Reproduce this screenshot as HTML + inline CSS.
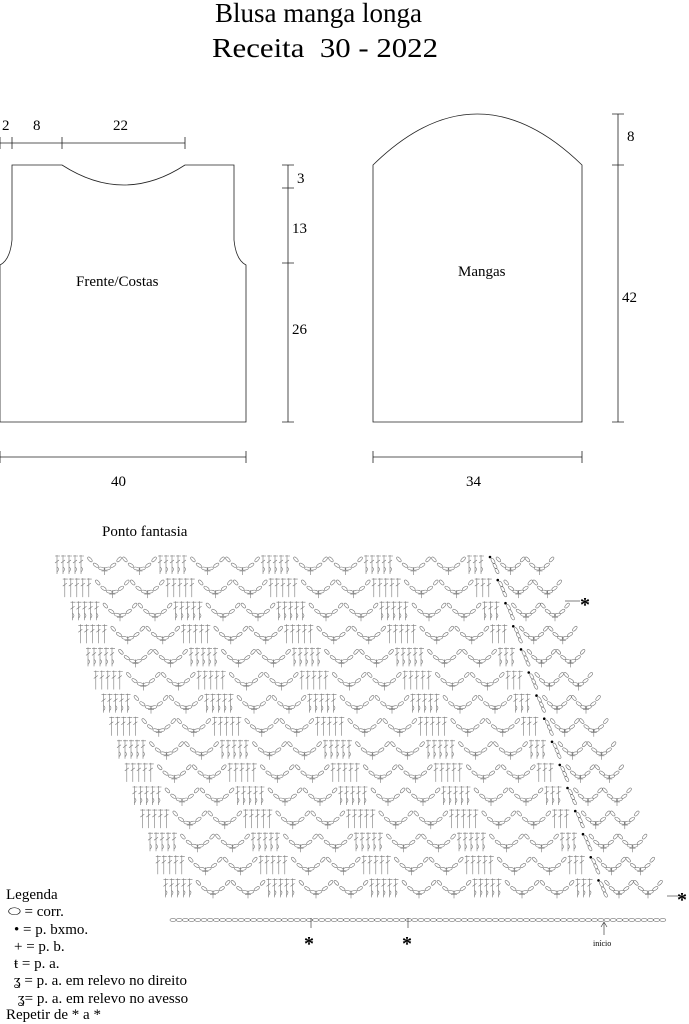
<!DOCTYPE html>
<html><head><meta charset="utf-8"><style>
body{margin:0;background:#fff;width:689px;height:1024px;overflow:hidden;font-family:"Liberation Serif",serif;}
svg{position:absolute;left:0;top:0}
</style></head><body>
<svg id="s" width="689" height="1024" viewBox="0 0 689 1024" font-family="Liberation Serif, serif">
<text x="215" y="22" font-size="27" textLength="207" lengthAdjust="spacingAndGlyphs">Blusa manga longa</text>
<text x="212" y="57" font-size="27" textLength="226" lengthAdjust="spacingAndGlyphs" style="white-space:pre">Receita  30 - 2022</text>
<g stroke="#222" stroke-width="0.8" fill="none">
<path d="M12 165 L62 165 Q124 205 185 165 L234 165 L234 240 Q236 260 246 265 L246 422 L0 422 L0 265 Q10 260 12 240 Z"/>
<path d="M0 143 H185 M0 137 V149 M12 137 V149 M62 137 V149 M185 137 V149"/>
<path d="M288 165 V422 M282 165 H294 M282 188 H294 M282 263 H294 M282 422 H294"/>
<path d="M0 457 H246 M0 451 V463 M246 451 V463"/>
<path d="M373 165 Q477 63 582 165 L582 422 L373 422 Z"/>
<path d="M618 114 V422 M612 114 H624 M612 165 H624 M612 422 H624"/>
<path d="M373 457 H582 M373 451 V463 M582 451 V463"/>
</g>
<g font-size="15">
<text x="2" y="130">2</text><text x="33" y="130">8</text><text x="113" y="130">22</text>
<text x="297" y="183">3</text><text x="292" y="233">13</text><text x="292" y="334">26</text>
<text x="76" y="286">Frente/Costas</text><text x="458" y="276">Mangas</text>
<text x="627" y="141">8</text><text x="622" y="302">42</text>
<text x="111" y="486">40</text><text x="466" y="486">34</text>
<text x="102" y="536">Ponto fantasia</text>
</g>
<g id="chart" stroke="#777" stroke-width="0.6" fill="none"></g>
<g font-size="15">
<text x="6" y="899">Legenda</text>
<text x="8" y="916">⬭ = corr.</text>
<text x="14" y="934">• = p. bxmo.</text>
<text x="14" y="951">+ = p. b.</text>
<text x="14" y="968">ŧ = p. a.</text>
<text x="14" y="985">ʓ = p. a. em relevo no direito</text>
<text x="18" y="1003">ʓ= p. a. em relevo no avesso</text>
<text x="6" y="1019">Repetir de * a *</text>
</g>
<g font-size="20" font-weight="bold">
<text x="580" y="611">*</text><text x="677" y="906">*</text>
<text x="304" y="950">*</text><text x="402" y="950">*</text>
</g>
<path d="M565 601 H580 M667 896 H678" stroke="#555" stroke-width="0.7"/>
<path d="M311 918 V928 M408 918 V928 M604 935 V923 M601 927 L604 922 L607 927" stroke="#444" stroke-width="0.7" fill="none"/>
<text x="593" y="946" font-size="8">início</text>
</svg>
<script>
var g=document.getElementById('chart'),h='';
function ov(x,y,a){h+='<ellipse cx="'+x.toFixed(1)+'" cy="'+y.toFixed(1)+'" rx="3" ry="1.4" transform="rotate('+a.toFixed(0)+' '+x.toFixed(1)+' '+y.toFixed(1)+')"/>';}
function arch(x1,x2,y){var n=6;for(var k=0;k<n;k++){var t=(k+0.5)/n,x=x1+(x2-x1)*t,yy=y+1+Math.sin(Math.PI*t)*13;var a=Math.cos(Math.PI*t)*50;ov(x,yy,a);} var m=(x1+x2)/2;h+='<path d="M'+m.toFixed(1)+' '+(y+12)+' v8 m-3 -4 h6"/>';}
for(var i=0;i<15;i++){var y=555+i*23.1,x0=57+i*7.75,xe=490+i*7.75;var x=x0,p=0;
 while(x<xe-5){ if(p==0){for(var s=0;s<5&&x<xe-3;s++){h+='<path d="M'+x.toFixed(1)+' '+y+' v19 M'+(x-2).toFixed(1)+' '+(y+1)+' h5 M'+(x-2).toFixed(1)+' '+(y+8)+' l4 -3"/>';if(i%2==0)h+='<path d="M'+x.toFixed(1)+' '+(y+12)+' q3 2 0 5"/>';x+=6;} p=1;}
  else {arch(x,x+35,y);arch(x+35,x+70,y);x+=73;p=0;}}
 h+='<circle cx="'+xe+'" cy="'+(y+2)+'" r="1.3" fill="#000" stroke="none"/>';
 ov(xe+3,y+6,60);ov(xe+5,y+11,60);ov(xe+7,y+16,60);
 arch(xe+6,xe+35,y);arch(xe+35,xe+64,y);}
for(var x=173;x<666;x+=6.2)ov(x,920,0);
g.innerHTML=h;
</script>
</body></html>
